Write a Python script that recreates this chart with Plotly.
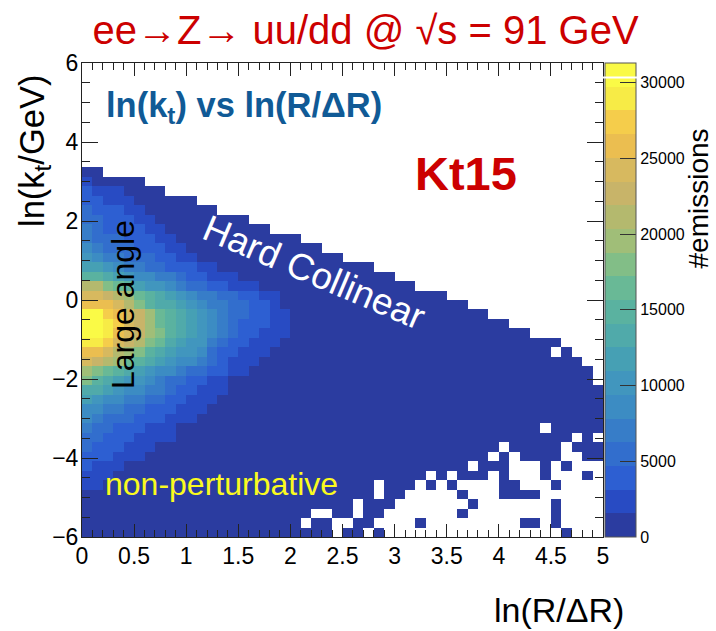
import plotly.graph_objects as go

N_BINS = 50
X_EDGES = [0.1 * i for i in range(N_BINS + 1)]
Y_EDGES = [-6 + 0.24 * i for i in range(N_BINS + 1)]
Z_MAX = 31300
N_LEVELS = 20

LEVEL_COLORS = [
    "rgb(43,60,160)", "rgb(40,75,195)", "rgb(45,95,210)", "rgb(50,110,205)",
    "rgb(55,125,200)", "rgb(60,140,195)", "rgb(65,150,190)", "rgb(70,160,180)",
    "rgb(80,170,170)", "rgb(90,178,160)", "rgb(105,185,150)", "rgb(130,190,135)",
    "rgb(160,190,120)", "rgb(180,185,110)", "rgb(200,180,105)", "rgb(215,185,95)",
    "rgb(235,190,80)", "rgb(245,205,75)", "rgb(247,235,70)", "rgb(250,250,70)",
]

# Number of filled bins in each ky row, counted from the left (row 0 = lowest)
ROW_FILLED = {
    16: 49, 17: 49, 18: 48, 19: 47, 20: 46, 21: 43, 22: 41, 23: 39, 24: 37, 25: 35,
    26: 32, 27: 30, 28: 28, 29: 25, 30: 23, 31: 21, 32: 18, 33: 16, 34: 13, 35: 11,
    36: 8, 37: 6, 38: 2,
}

# Colour level read per bin from the left edge; bins further right are level 0
ROW_LEVELS = {
    5: [1, 1],
    6: [1, 1, 1],
    7: [2, 1, 1, 1],
    8: [2, 2, 2, 1, 1, 1],
    9: [3, 2, 2, 2, 1, 1, 1],
    10: [3, 3, 2, 2, 2, 1, 1, 1, 1],
    11: [4, 3, 3, 2, 2, 2, 1, 1, 1],
    12: [5, 4, 3, 3, 3, 2, 2, 2, 1, 1, 1],
    13: [5, 5, 4, 4, 3, 3, 2, 2, 2, 1, 1, 1],
    14: [7, 6, 5, 5, 4, 4, 3, 3, 2, 2, 1, 1, 1],
    15: [8, 8, 7, 6, 5, 5, 4, 4, 3, 2, 2, 1, 1, 1],
    16: [11, 9, 8, 7, 6, 6, 5, 4, 3, 3, 2, 2, 1, 1],
    17: [12, 11, 10, 9, 8, 7, 6, 5, 5, 4, 3, 3, 2, 2, 1, 1],
    18: [15, 14, 13, 12, 10, 9, 8, 7, 6, 5, 5, 4, 3, 2, 1, 1, 1],
    19: [16, 16, 15, 13, 12, 11, 9, 8, 7, 6, 6, 5, 3, 2, 2, 1, 1, 1],
    20: [18, 18, 17, 15, 14, 13, 11, 10, 8, 7, 6, 6, 4, 3, 2, 2, 1, 1, 1],
    21: [19, 19, 18, 16, 15, 14, 12, 11, 9, 8, 7, 6, 5, 4, 3, 2, 2, 1, 1, 1],
    22: [19, 19, 18, 17, 15, 14, 12, 10, 9, 8, 7, 6, 5, 4, 3, 2, 2, 2, 1, 1],
    23: [19, 19, 17, 16, 15, 14, 12, 10, 9, 8, 7, 6, 5, 4, 3, 3, 2, 2, 1, 1],
    24: [16, 16, 16, 15, 13, 11, 9, 8, 8, 7, 6, 5, 4, 4, 3, 3, 2, 2, 1],
    25: [15, 15, 14, 13, 12, 10, 9, 8, 7, 6, 5, 4, 4, 3, 3, 2, 2, 1, 1],
    26: [13, 13, 11, 10, 9, 7, 6, 6, 5, 4, 3, 3, 2, 2, 1, 1, 1],
    27: [9, 9, 8, 7, 6, 5, 5, 4, 4, 3, 2, 2, 1, 1, 1],
    28: [7, 7, 6, 5, 4, 4, 3, 3, 2, 2, 2, 1, 1],
    29: [6, 5, 4, 4, 3, 3, 3, 2, 2, 1, 1],
    30: [5, 4, 3, 3, 3, 2, 2, 2, 1, 1],
    31: [4, 3, 3, 3, 2, 2, 2, 1, 1],
    32: [4, 3, 2, 2, 2, 2, 1, 1],
    33: [3, 3, 2, 2, 2, 1, 1],
    34: [3, 2, 2, 2, 1, 1],
    35: [2, 2, 1, 1, 1],
    36: [2, 1, 1, 1],
    37: [1],
}

# Empty bins (column indices) inside the filled region
ROW_EMPTY = {
    0: [24, 27] + list(range(29, 46)) + [47, 48, 49],
    1: [21, 24, 25, 28, 29, 30, 31] + list(range(33, 42)) + [44, 46, 47, 48, 49],
    2: [22, 23, 26] + list(range(29, 36)) + list(range(37, 45)) + [46, 47, 48, 49],
    3: [26] + list(range(30, 37)) + list(range(38, 45)) + [46, 47, 48, 49],
    4: [28, 31, 32, 33, 34, 35, 37, 38, 39, 44, 45, 46, 47, 48, 49],
    5: [28, 32, 34, 36, 37, 38, 39, 42, 43, 44, 46, 47, 48, 49],
    6: [33, 35, 39, 41, 42, 43, 45, 46, 47, 49],
    7: [37, 41, 42, 43, 45, 47, 48, 49],
    8: [39, 41, 46, 47],
    9: [40, 46],
    10: [47, 49],
    11: [44],
    19: [45],
}

z = []
for r in range(N_BINS):
    filled = ROW_FILLED.get(r, N_BINS if r < 16 else 0)
    levels = ROW_LEVELS.get(r, [])
    empty = ROW_EMPTY.get(r, [])
    row = []
    for c in range(N_BINS):
        if c >= filled or c in empty:
            row.append(None)
        else:
            lvl = levels[c] if c < len(levels) else 0
            row.append((lvl + 0.5) * Z_MAX / N_LEVELS)
    z.append(row)

colorscale = []
for i, col in enumerate(LEVEL_COLORS):
    colorscale.append([i / N_LEVELS, col])
    colorscale.append([(i + 1) / N_LEVELS, col])

X_TICKS = [0, 0.5, 1, 1.5, 2, 2.5, 3, 3.5, 4, 4.5, 5]
X_TICK_TEXT = ["0", "0.5", "1", "1.5", "2", "2.5", "3", "3.5", "4", "4.5", "5"]
Y_TICKS = [-6, -4, -2, 0, 2, 4, 6]
CB_TICKS = [0, 5000, 10000, 15000, 20000, 25000, 30000]

W, H = 716, 631
L, R, T, B = 82, 603, 63, 537
SANS = "Liberation Sans, Arial, sans-serif"


def px(x):
    return (x - L) / (R - L)


def py(y):
    return (B - y) / (B - T)


def note(text, x, y, size, color, bold=False, angle=0):
    return dict(
        text=f"<b>{text}</b>" if bold else text,
        x=px(x), y=py(y), xref="paper", yref="paper",
        xanchor="center", yanchor="middle", showarrow=False,
        textangle=angle, font=dict(family=SANS, size=size, color=color),
    )


fig = go.Figure(
    go.Heatmap(
        x=X_EDGES, y=Y_EDGES, z=z,
        zmin=0, zmax=Z_MAX, colorscale=colorscale, hoverongaps=False,
        colorbar=dict(
            x=px(605), xanchor="left", xpad=0, y=0, yanchor="bottom", ypad=0,
            len=1, lenmode="fraction", thickness=31, thicknessmode="pixels",
            tickmode="array", tickvals=CB_TICKS, ticktext=[str(v) for v in CB_TICKS],
            ticks="inside", ticklen=16, tickcolor="#333", tickwidth=1,
            tickfont=dict(family=SANS, size=16, color="black"),
            outlinecolor="#555", outlinewidth=1,
        ),
    )
)

fig.update_layout(
    width=W, height=H, autosize=False,
    margin=dict(l=L, r=W - R, t=T, b=H - B, pad=0, autoexpand=False),
    paper_bgcolor="white", plot_bgcolor="white",
    title=dict(
        text="ee→Z→ uu/dd @ √s = 91 GeV", x=365.5 / W, xanchor="center",
        y=1 - 30 / H, yanchor="middle",
        font=dict(family=SANS, size=40, color="rgb(204,0,0)"),
    ),
    xaxis=dict(
        range=[0, 5], tickvals=X_TICKS, ticktext=X_TICK_TEXT,
        ticks="inside", ticklen=13, tickwidth=1, tickcolor="#222",
        minor=dict(dtick=0.1, ticks="inside", ticklen=7, tickwidth=1, tickcolor="#222"),
        showline=True, linecolor="#222", linewidth=1, mirror="allticks",
        showgrid=False, zeroline=False, ticklabelstandoff=-2,
        tickfont=dict(family=SANS, size=23, color="black"),
    ),
    yaxis=dict(
        range=[-6, 6], tickvals=Y_TICKS,
        ticks="inside", ticklen=16, tickwidth=1, tickcolor="#222",
        minor=dict(dtick=0.5, ticks="inside", ticklen=8, tickwidth=1, tickcolor="#222"),
        showline=True, linecolor="#222", linewidth=1, mirror="allticks",
        showgrid=False, zeroline=False, ticklabelstandoff=-2,
        tickfont=dict(family=SANS, size=23, color="black"),
    ),
    annotations=[
        note("ln(k<sub>t</sub>) vs ln(R/ΔR)", 244, 108, 34.5, "rgb(16,90,150)", bold=True),
        note("Kt15", 466, 173, 47, "rgb(204,0,0)", bold=True),
        note("Hard Collinear", 314, 272, 37, "white", angle=23),
        note("Large angle", 123, 305, 32, "black", angle=-90),
        note("non-perturbative", 221, 484, 32, "rgb(250,250,30)"),
        note("ln(k<sub>t</sub>/GeV)", 35, 151, 34.5, "black", angle=-90),
        note("ln(R/ΔR)", 559, 610, 34, "black"),
        note("#emissions", 698, 198.5, 28, "black", angle=-90),
    ],
    shapes=[
        dict(type="line", xref="paper", yref="paper", x0=px(603), x1=px(637),
             y0=py(77.5), y1=py(77.5), line=dict(color="white", width=2)),
    ],
)

POST = """
document.body.style.margin='0';
var svgs=document.querySelectorAll('.main-svg');
var above=document.querySelector('.layer-above');
if(above&&svgs.length>1){svgs[1].appendChild(above);}
"""
fig.write_html("out.html", post_script=POST, config={"displayModeBar": False})
